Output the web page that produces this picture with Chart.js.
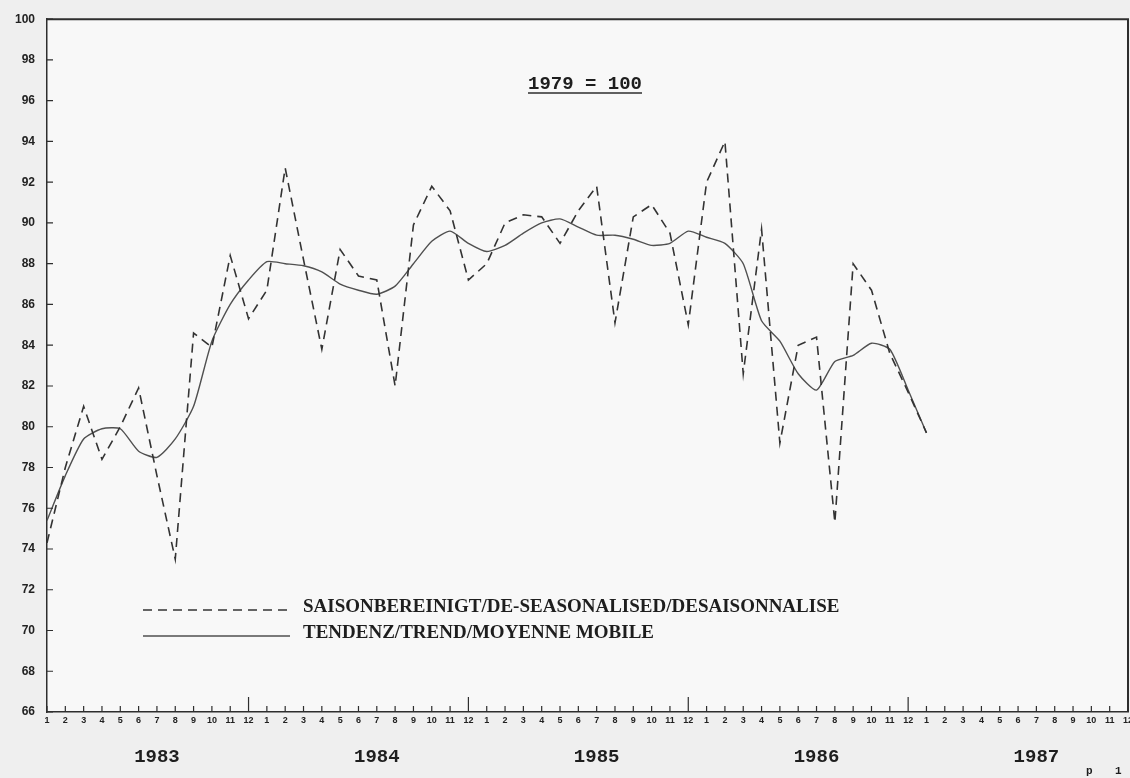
<!DOCTYPE html>
<html>
<head>
<meta charset="utf-8">
<script src="https://cdn.jsdelivr.net/npm/chart.js@4.4.1/dist/chart.umd.min.js"></script>
<style>
  html, body { margin: 0; padding: 0; background: #efefef; }
  #wrap { width: 1130px; height: 778px; }
</style>
</head>
<body>
<div id="wrap"><canvas id="chart" width="1130" height="778"></canvas></div>
<script>
// data (monthly, Jan 1983 .. Jan 1987)
const years = ['1983', '1984', '1985', '1986', '1987'];
const months = ['1', '2', '3', '4', '5', '6', '7', '8', '9', '10', '11', '12'];

const seasonalAdj = [
  74.3, 78.0, 81.0, 78.4, 80.0, 81.9, 77.6, 73.5, 84.6, 83.9, 88.4, 85.3,
  86.7, 92.7, 88.2, 83.8, 88.7, 87.4, 87.2, 82.0, 89.9, 91.8, 90.6, 87.2,
  88.0, 90.0, 90.4, 90.3, 89.0, 90.6, 91.8, 85.1, 90.3, 90.9, 89.5, 85.0,
  92.0, 94.0, 82.6, 89.7, 79.2, 84.0, 84.4, 75.3, 88.0, 86.7, 83.6, 81.7,
  79.7
];
const trend = [
  75.4, 77.6, 79.4, 79.9, 79.9, 78.8, 78.5, 79.4, 81.0, 84.2, 86.0, 87.2,
  88.1, 88.0, 87.9, 87.6, 87.0, 86.7, 86.5, 86.9, 88.0, 89.1, 89.6, 89.0,
  88.6, 88.9, 89.5, 90.0, 90.2, 89.8, 89.4, 89.4, 89.2, 88.9, 89.0, 89.6,
  89.3, 89.0, 88.0, 85.2, 84.2, 82.6, 81.8, 83.2, 83.5, 84.1, 83.8, 81.8,
  79.7
];

const seriesNames = ['SAISONBEREINIGT/DE-SEASONALISED/DESAISONNALISE', 'TENDENZ/TREND/MOYENNE MOBILE'];
const baseNote = '1979 = 100';

const monthLabels = years.flatMap(() => months);
const yearRow = years.flatMap(y => months.map(m => (m === '7' ? y : '')));

const ink = '#2e2e2e';

// background, frame, inward ticks, title and legend
const framePlugin = {
  id: 'frame',
  beforeDraw(chart) {
    const { ctx, chartArea: a } = chart;
    ctx.save();
    ctx.fillStyle = '#efefef';
    ctx.fillRect(0, 0, chart.width, chart.height);
    ctx.fillStyle = '#f8f8f8';
    ctx.fillRect(a.left, a.top, a.right - a.left, a.bottom - a.top);
    ctx.restore();
  },
  afterDraw(chart) {
    const { ctx, chartArea: a, scales } = chart;
    ctx.save();
    ctx.strokeStyle = ink;

    // top and right frame
    ctx.lineWidth = 2;
    ctx.beginPath();
    ctx.moveTo(a.left, a.top);
    ctx.lineTo(a.right, a.top);
    ctx.lineTo(a.right, a.bottom);
    ctx.stroke();

    // ticks pointing into the plot
    ctx.lineWidth = 1.2;
    ctx.beginPath();
    scales.y.ticks.forEach((t, i) => {
      const y = scales.y.getPixelForTick(i);
      ctx.moveTo(a.left, y);
      ctx.lineTo(a.left + 6, y);
    });
    scales.x.ticks.forEach((t, i) => {
      const x = scales.x.getPixelForTick(i);
      const len = monthLabels[i] === '12' ? 15 : 6;
      ctx.moveTo(x, a.bottom);
      ctx.lineTo(x, a.bottom - len);
    });
    ctx.stroke();

    // base year note
    ctx.fillStyle = '#1e1e1e';
    ctx.font = 'bold 19px "Liberation Mono"';
    ctx.textAlign = 'center';
    ctx.textBaseline = 'middle';
    const tx = 585, ty = 84;
    ctx.fillText(baseNote, tx, ty);
    const w = ctx.measureText(baseNote).width;
    ctx.lineWidth = 1.5;
    ctx.beginPath();
    ctx.moveTo(tx - w / 2, ty + 9);
    ctx.lineTo(tx + w / 2, ty + 9);
    ctx.stroke();

    // legend
    ctx.font = 'bold 19px "Liberation Serif"';
    ctx.textAlign = 'left';
    chart.data.datasets.forEach((ds, i) => {
      const y = 607 + i * 26;
      ctx.strokeStyle = ds.borderColor;
      ctx.lineWidth = ds.borderWidth;
      ctx.setLineDash(ds.borderDash || []);
      ctx.beginPath();
      ctx.moveTo(143, y + 3);
      ctx.lineTo(290, y + 3);
      ctx.stroke();
      ctx.setLineDash([]);
      ctx.fillText(ds.label, 303, y);
    });

    ctx.font = 'bold 11px "Liberation Mono"';
    ctx.fillText('p', 1086, 771);
    ctx.fillText('1', 1115, 771);
    ctx.restore();
  }
};

const tickFont = { family: '"Liberation Sans", Arial, sans-serif', size: 12, weight: 'bold' };

new Chart(document.getElementById('chart'), {
  type: 'line',
  data: {
    labels: monthLabels,
    datasets: [{
      label: seriesNames[0],
      data: seasonalAdj,
      borderColor: '#333333',
      borderWidth: 1.6,
      borderDash: [9, 6],
      pointRadius: 0,
      fill: false,
      tension: 0
    }, {
      label: seriesNames[1],
      data: trend,
      borderColor: '#505050',
      borderWidth: 1.4,
      pointRadius: 0,
      fill: false,
      tension: 0.2
    }]
  },
  options: {
    responsive: false,
    animation: false,
    devicePixelRatio: 1,
    layout: { padding: { top: 15, right: 2, left: 0, bottom: 0 } },
    plugins: { legend: { display: false }, tooltip: { enabled: false } },
    scales: {
      x: {
        type: 'category',
        offset: false,
        grid: { display: false, drawTicks: false },
        border: { display: true, color: ink, width: 1.5 },
        ticks: { autoSkip: false, maxRotation: 0, padding: 3, color: '#222', font: { family: '"Liberation Sans", Arial, sans-serif', size: 9, weight: 'bold' } },
        afterFit(s) { s.height = 22; s.paddingLeft = 0; s.paddingRight = 0; }
      },
      years: {
        type: 'category',
        position: 'bottom',
        weight: 1,
        labels: yearRow,
        offset: false,
        grid: { display: false, drawTicks: false },
        border: { display: false },
        ticks: { autoSkip: false, maxRotation: 0, padding: 12, color: '#1e1e1e', font: { family: '"Liberation Mono", monospace', size: 19, weight: 'bold' } },
        afterFit(s) { s.height = 44; s.paddingLeft = 0; s.paddingRight = 0; }
      },
      y: {
        min: 66,
        max: 100,
        grid: { display: false, drawTicks: false },
        border: { display: true, color: ink, width: 1.5 },
        ticks: { stepSize: 2, padding: 12, color: '#222', font: tickFont },
        afterFit(s) { s.width = 47; }
      }
    }
  },
  plugins: [framePlugin]
});
</script>
</body>
</html>
